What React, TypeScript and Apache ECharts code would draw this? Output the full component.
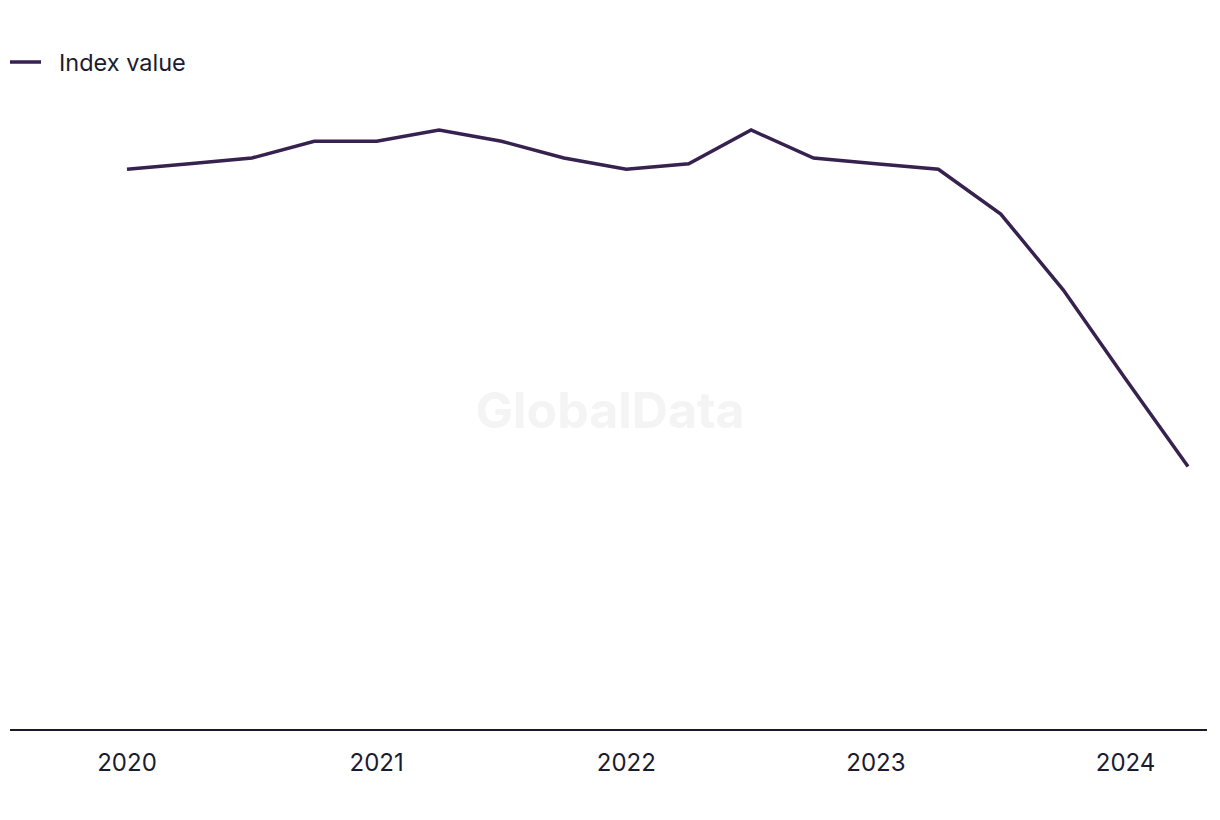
import React, { useEffect, useRef } from "react";
import * as echarts from "echarts";

const quarters = [
  "2020 Q1", "2020 Q2", "2020 Q3", "2020 Q4",
  "2021 Q1", "2021 Q2", "2021 Q3", "2021 Q4",
  "2022 Q1", "2022 Q2", "2022 Q3", "2022 Q4",
  "2023 Q1", "2023 Q2", "2023 Q3", "2023 Q4",
  "2024 Q1", "2024 Q2",
];
const indexValues = [100, 101, 102, 105, 105, 107, 105, 102, 100, 101, 107, 102, 101, 100, 92, 78.5, 62.6, 47];
const seriesName = "Index value";
const lineColor = "#36214f";
const textColor = "#1b1b2f";
const FONT = "Inter, 'Noto Sans', sans-serif";

export default function App() {
  const ref = useRef<HTMLDivElement>(null);
  useEffect(() => {
    if (!ref.current) return;
    const chart = echarts.init(ref.current, undefined, { renderer: "svg" });
    chart.setOption({
      animation: false,
      backgroundColor: "#ffffff",
      textStyle: { fontFamily: FONT },
      legend: {
        left: 10,
        top: 50,
        padding: 0,
        itemWidth: 31,
        itemHeight: 3.5,
        icon: "rect",
        data: [{ name: seriesName, itemStyle: { color: lineColor } }],
        textStyle: { fontFamily: FONT, fontSize: 23.5, color: textColor, padding: [0, 0, 0, 13] },
      },
      graphic: [
        {
          type: "text",
          x: 610,
          y: 410,
          silent: true,
          style: {
            text: "GlobalData",
            font: `bold 50px ${FONT}`,
            fill: "#f4f4f4",
            textAlign: "center",
            textVerticalAlign: "middle",
          },
          z: 0,
        },
        {
          type: "line",
          shape: { x1: 10, y1: 730, x2: 1207, y2: 730 },
          style: { stroke: "#1a1a2e", lineWidth: 2 },
          z: 10,
        },
      ],
      grid: { left: 127, right: 32, top: 113.2, bottom: 90, containLabel: false },
      xAxis: {
        type: "category",
        data: quarters,
        boundaryGap: false,
        axisLine: { show: false },
        axisTick: { show: false },
        axisLabel: {
          interval: 3,
          margin: 20,
          fontSize: 24,
          color: textColor,
          fontFamily: FONT,
          formatter: (v: string) => v.slice(0, 4),
        },
        splitLine: { show: false },
      },
      yAxis: {
        type: "value",
        min: 0,
        max: 110,
        show: false,
        splitLine: { show: false },
      },
      series: [
        {
          name: seriesName,
          type: "line",
          data: indexValues,
          symbol: "none",
          lineStyle: { color: lineColor, width: 3.5, join: "miter" },
          itemStyle: { color: lineColor },
          z: 5,
        },
      ],
    });
    return () => chart.dispose();
  }, []);
  return <div ref={ref} style={{ width: 1220, height: 820, position: "absolute", left: 0, top: 0 }} />;
}
